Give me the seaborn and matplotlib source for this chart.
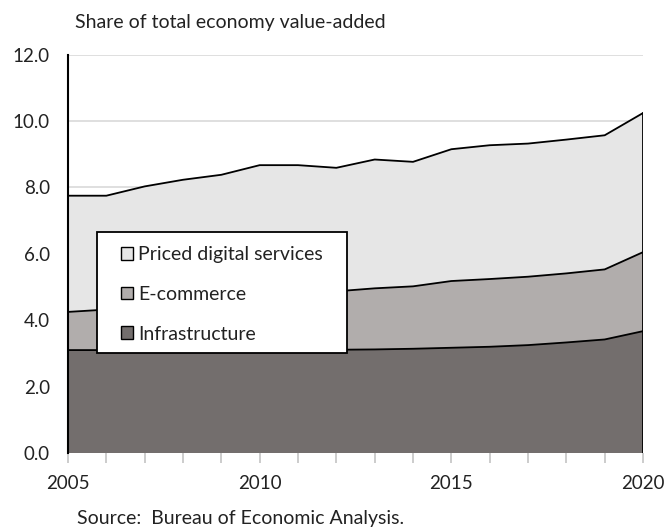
import numpy as np
import pandas as pd
import matplotlib
matplotlib.use("Agg")
import matplotlib.pyplot as plt
import seaborn as sns
from matplotlib.patches import Patch, Rectangle
from matplotlib.ticker import MultipleLocator

years = list(range(2005, 2021))
infrastructure = [3.10, 3.10, 3.10, 3.10, 3.10, 3.10, 3.10, 3.11, 3.12, 3.14, 3.17, 3.20, 3.25, 3.33, 3.42, 3.67]
ecommerce_top = [4.25, 4.32, 4.42, 4.52, 4.62, 4.72, 4.80, 4.87, 4.96, 5.02, 5.18, 5.24, 5.31, 5.41, 5.53, 6.05]
total = [7.75, 7.75, 8.03, 8.23, 8.38, 8.67, 8.67, 8.59, 8.84, 8.77, 9.15, 9.27, 9.32, 9.44, 9.57, 10.24]

ecommerce = [round(e - i, 2) for e, i in zip(ecommerce_top, infrastructure)]
priced = [round(t - e, 2) for t, e in zip(total, ecommerce_top)]

series_names = ["Infrastructure", "E-commerce", "Priced digital services"]
colors = ["#736e6d", "#b1adac", "#e6e6e6"]
y_ticks = [0.0, 2.0, 4.0, 6.0, 8.0, 10.0, 12.0]
x_ticks = [2005, 2010, 2015, 2020]

df = pd.DataFrame({"year": years, "Infrastructure": infrastructure,
                   "E-commerce": ecommerce, "Priced digital services": priced})

sns.set_theme(style="white")
plt.rcParams['font.family'] = ['Lato', 'DejaVu Sans']
txt_color = "#222222"

fig = plt.figure(figsize=(6.66, 5.27), dpi=100)
ax = fig.add_axes([0.1021, 0.1404, 0.8634, 0.756])

ax.stackplot(df["year"], *[df[s] for s in series_names], colors=colors,
             edgecolor="none", linewidth=0, zorder=2)
cum = df[series_names].cumsum(axis=1)
for s in series_names:
    sns.lineplot(x=df["year"], y=cum[s], color="black", linewidth=1.3, ax=ax, zorder=3)
ax.plot([2020, 2020], [0, total[-1]], color="black", linewidth=1.3, zorder=3)

ax.set_xlim(2005, 2020)
ax.set_ylim(0, 12)
ax.set_yticks(y_ticks)
ax.set_yticklabels([f"{v:.1f}" for v in y_ticks], fontsize=13.5, color=txt_color)
ax.set_xticks(x_ticks)
ax.set_xticklabels([str(v) for v in x_ticks], fontsize=13.5, color=txt_color)
ax.xaxis.set_minor_locator(MultipleLocator(1))
ax.tick_params(axis="x", which="both", direction="out", length=7, width=1.2,
               color="#c4c4c4", bottom=True, pad=9)
ax.tick_params(axis="y", length=0, pad=13)
ax.grid(axis="y", color="#d9d9d9", linewidth=1.2, zorder=0)
ax.set_axisbelow(True)
for sp in ["top", "right", "bottom"]:
    ax.spines[sp].set_visible(False)
ax.spines["left"].set_color("black")
ax.spines["left"].set_linewidth(1.5)
ax.spines["left"].set_zorder(4)
ax.set_xlabel("")
ax.set_ylabel("")

# legend box
box = Rectangle((0.0504, 0.251), 0.4348, 0.3037, transform=ax.transAxes,
                facecolor="white", edgecolor="black", linewidth=1.3, zorder=5)
ax.add_patch(box)
handles = [Patch(facecolor=colors[2], edgecolor="black", label="Priced digital services"),
           Patch(facecolor=colors[1], edgecolor="black", label="E-commerce"),
           Patch(facecolor=colors[0], edgecolor="black", label="Infrastructure")]
leg = ax.legend(handles=handles, loc="upper left", bbox_to_anchor=(0.0922, 0.5185),
                fontsize=14, frameon=False, labelspacing=1.16, handlelength=0.62,
                handleheight=0.62, handletextpad=0.26, borderpad=0,
                borderaxespad=0, labelcolor=txt_color)
leg.set_zorder(6)

fig.text(0.1126, 0.958, "Share of total economy value-added", fontsize=14,
         color=txt_color, va="center")
fig.text(0.1156, 0.017, "Source:  Bureau of Economic Analysis.", fontsize=14,
         color=txt_color, va="center")

fig.savefig("out.png", dpi=100)
